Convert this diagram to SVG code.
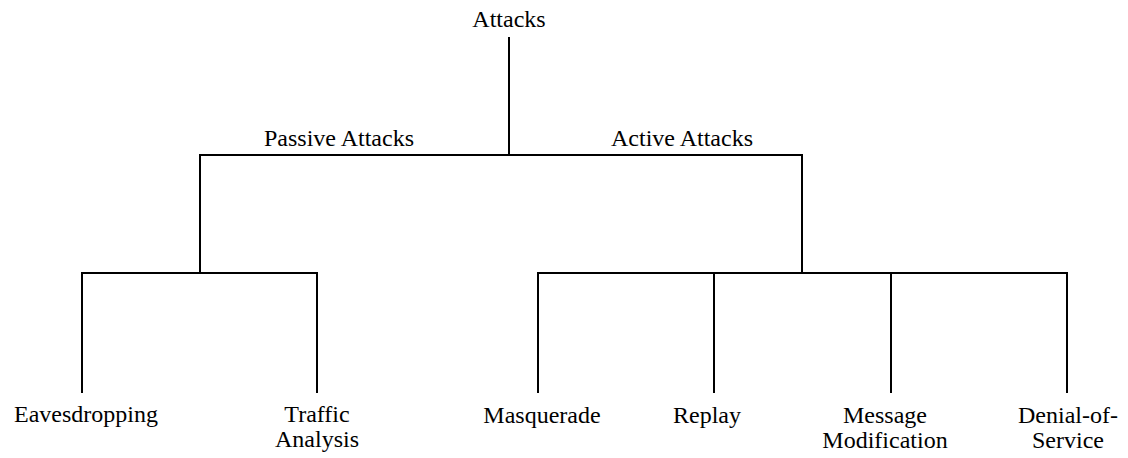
<svg xmlns="http://www.w3.org/2000/svg" width="1128" height="458" viewBox="0 0 1128 458">
<style>
text{font-family:"Liberation Serif","Times New Roman",serif;font-size:24px;fill:#000;text-anchor:middle}
.c line{stroke:#000;stroke-width:2;stroke-linecap:square}
</style>
<rect width="1128" height="458" fill="#fff"/>
<g class="c" id="connectors">
<line x1="509" y1="38" x2="509" y2="155"/>
<line x1="200" y1="155" x2="802" y2="155"/>
<line x1="200" y1="155" x2="200" y2="273"/>
<line x1="802" y1="155" x2="802" y2="273"/>
<line x1="82" y1="273" x2="317" y2="273"/>
<line x1="82" y1="273" x2="82" y2="392"/>
<line x1="317" y1="273" x2="317" y2="392"/>
<line x1="538" y1="273" x2="1067" y2="273"/>
<line x1="538" y1="273" x2="538" y2="392"/>
<line x1="714" y1="273" x2="714" y2="392"/>
<line x1="891" y1="273" x2="891" y2="392"/>
<line x1="1067" y1="273" x2="1067" y2="392"/>
</g>
<g id="attacks"><text x="509" y="27">Attacks</text></g>
<g id="passive"><text x="339" y="146">Passive Attacks</text></g>
<g id="active"><text x="682" y="146">Active Attacks</text></g>
<g id="eavesdropping"><text x="86" y="422">Eavesdropping</text></g>
<g id="traffic"><text x="317" y="422">Traffic</text><text x="317" y="447">Analysis</text></g>
<g id="masquerade"><text x="542" y="423">Masquerade</text></g>
<g id="replay"><text x="707" y="423">Replay</text></g>
<g id="modification"><text x="885" y="423">Message</text><text x="885" y="448">Modification</text></g>
<g id="dos"><text x="1068" y="423">Denial-of-</text><text x="1068" y="448">Service</text></g>
</svg>
